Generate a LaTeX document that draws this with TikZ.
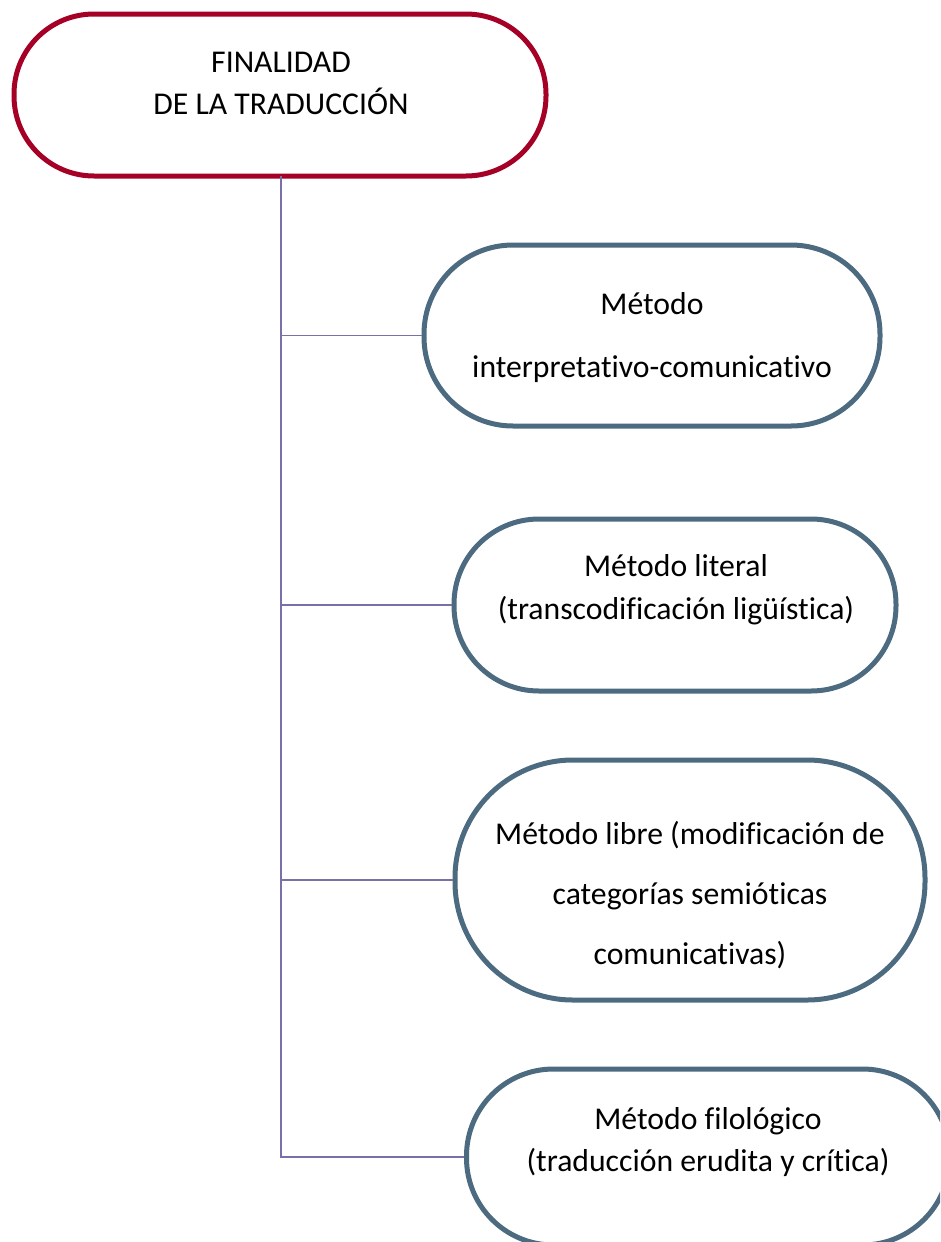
\documentclass[tikz,border=0pt]{standalone}
\usepackage{fontspec}
\setmainfont{Carlito}[RawFeature={-liga;-clig;-dlig;-calt}]
\definecolor{rootred}{HTML}{A50026}
\definecolor{boxblue}{HTML}{4C6A80}
\definecolor{linkviolet}{HTML}{7A70A8}
\begin{document}
\begin{tikzpicture}[x=1pt,y=-1pt,
  rootbox/.style={draw=rootred,line width=5pt,fill=white,rectangle,inner sep=0pt},
  methodbox/.style={draw=boxblue,line width=5pt,fill=white,rectangle,inner sep=0pt},
  txt/.style={align=center,inner sep=0pt,text=black},
  link/.style={draw=linkviolet,line width=1.8pt}]
\useasboundingbox (0,0) rectangle (940,1242);
\clip (0,0) rectangle (940,1242);

% root
\node[rootbox,minimum width=532pt,minimum height=162pt,rounded corners=80pt] (root) at (280,95) {};
\node[txt,font=\fontsize{31.7}{42}\selectfont] (roottxt) at (281,83) {FINALIDAD\\DE LA TRADUCCIÓN};

% methods
\node[methodbox,minimum width=456pt,minimum height=181pt,rounded corners=89pt] (m1) at (652,335.5) {};
\node[txt,font=\fontsize{31.7}{63}\selectfont] (m1txt) at (652,338) {Método\\interpretativo-comunicativo};

\node[methodbox,minimum width=442pt,minimum height=172pt,rounded corners=85pt] (m2) at (675,605) {};
\node[txt,font=\fontsize{31.7}{43}\selectfont] (m2txt) at (676,590) {Método literal\\(transcodificación ligüística)};

\node[methodbox,minimum width=470pt,minimum height=240pt,rounded corners=118pt] (m3) at (690,880) {};
\node[txt,font=\fontsize{31.7}{60}\selectfont] (m3txt) at (690,895) {Método libre (modificación de\\categorías semióticas\\comunicativas)};

\node[methodbox,minimum width=483pt,minimum height=176pt,rounded corners=87pt] (m4) at (708,1157) {};
\node[txt,font=\fontsize{31.7}{42}\selectfont] (m4txt) at (708,1142) {Método filológico\\(traducción erudita y crítica)};

% connectors
\coordinate (trunk) at (281,176);
\draw[link] (trunk) -- (trunk |- m4.west) -- (m4.west);
\draw[link] (trunk |- m1.west) -- (m1.west);
\draw[link] (trunk |- m2.west) -- (m2.west);
\draw[link] (trunk |- m3.west) -- (m3.west);
\end{tikzpicture}
\end{document}
